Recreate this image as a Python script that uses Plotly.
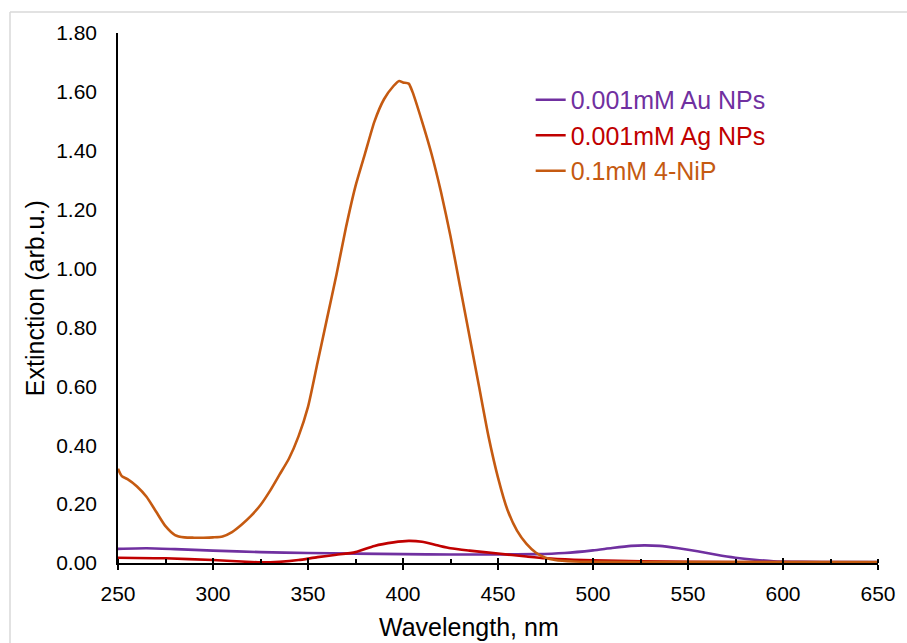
import plotly.graph_objects as go

# ---- data ----
nip_wl = [250, 252, 255, 260, 265, 270, 275, 280, 285, 290, 295, 300, 305, 310, 315, 320, 325,
          330, 335, 340, 345, 350, 355, 360, 365, 370, 375, 380, 385, 390, 395, 398, 400, 403,
          405, 410, 415, 420, 425, 430, 435, 440, 445, 450, 455, 460, 465, 470, 475, 480, 490,
          500, 550, 600, 650]
nip_ext = [0.32, 0.295, 0.285, 0.26, 0.225, 0.175, 0.125, 0.095, 0.087, 0.086, 0.086, 0.087, 0.09,
           0.105, 0.13, 0.16, 0.197, 0.245, 0.30, 0.355, 0.43, 0.53, 0.68, 0.83, 0.98, 1.14, 1.28,
           1.39, 1.50, 1.575, 1.62, 1.637, 1.632, 1.628, 1.60, 1.50, 1.39, 1.26, 1.11, 0.94, 0.77,
           0.60, 0.43, 0.29, 0.18, 0.11, 0.065, 0.035, 0.018, 0.01, 0.005, 0.004, 0.003, 0.003, 0.003]

ag_wl = [250, 275, 300, 315, 325, 335, 345, 355, 365, 375, 385, 395, 403, 410, 418, 425, 435, 450,
         465, 475, 490, 500, 525, 550, 600, 650]
ag_ext = [0.018, 0.016, 0.010, 0.005, 0.002, 0.004, 0.010, 0.020, 0.028, 0.037, 0.058, 0.070, 0.075,
          0.072, 0.060, 0.050, 0.042, 0.032, 0.022, 0.016, 0.011, 0.009, 0.006, 0.004, 0.003, 0.002]

au_wl = [250, 265, 280, 300, 325, 350, 375, 400, 425, 450, 470, 485, 500, 510, 520, 527, 535, 545,
         555, 565, 575, 585, 595, 610, 630, 650]
au_ext = [0.048, 0.050, 0.047, 0.042, 0.037, 0.034, 0.032, 0.030, 0.029, 0.029, 0.030, 0.034, 0.043,
          0.051, 0.058, 0.060, 0.058, 0.050, 0.040, 0.028, 0.018, 0.011, 0.006, 0.004, 0.003, 0.003]

series_names = ["0.001mM Au NPs", "0.001mM Ag NPs", "0.1mM 4-NiP"]
series_colors = ["#7030A0", "#C00000", "#C55A11"]

x_ticks = [250, 300, 350, 400, 450, 500, 550, 600, 650]
y_ticks = [0.0, 0.2, 0.4, 0.6, 0.8, 1.0, 1.2, 1.4, 1.6, 1.8]

FONT = "Arial, Liberation Sans, sans-serif"

fig = go.Figure()
for name, color, xs, ys in [
    (series_names[0], series_colors[0], au_wl, au_ext),
    (series_names[1], series_colors[1], ag_wl, ag_ext),
    (series_names[2], series_colors[2], nip_wl, nip_ext),
]:
    fig.add_trace(go.Scatter(
        x=xs, y=ys, mode="lines", line=dict(color=color, width=2.6, shape="spline", smoothing=0.6),
        name=f"<span style='color:{color}'>{name}</span>",
    ))

# invisible helper trace to carry the overlay axis used for crossing tick marks
fig.add_trace(go.Scatter(x=[nip_wl[0]], y=[nip_ext[0]], xaxis="x2", mode="markers",
                         marker=dict(opacity=0), showlegend=False, hoverinfo="skip"))

fig.update_layout(
    width=907, height=643,
    margin=dict(l=118, r=29, t=33, b=80),
    paper_bgcolor="white", plot_bgcolor="white",
    font=dict(family=FONT, color="#000000"),
    showlegend=True,
    legend=dict(x=0.543, y=0.917, xanchor="left", yanchor="top", bgcolor="rgba(0,0,0,0)",
                font=dict(size=25, family=FONT), tracegroupgap=0),
    xaxis=dict(range=[250, 650], tickvals=x_ticks, ticktext=[str(v) for v in x_ticks],
               showgrid=False, zeroline=False, showline=True, linecolor="black", linewidth=1.5,
               ticks="outside", ticklen=5, tickwidth=1.5, tickcolor="black",
               ticklabelstandoff=6,
               minor=dict(ticks="inside", ticklen=4, dtick=25, tick0=250, tickwidth=1.5,
                          tickcolor="black", showgrid=False),
               tickfont=dict(size=21, family=FONT, color="#000000")),
    xaxis2=dict(overlaying="x", matches="x", anchor="y", range=[250, 650], tickvals=x_ticks,
                showticklabels=False, showgrid=False, zeroline=False, showline=False,
                ticks="inside", ticklen=5, tickwidth=1.5, tickcolor="black"),
    yaxis=dict(range=[0, 1.8], tickvals=y_ticks, tickformat=".2f", showgrid=False, zeroline=False,
               showline=True, linecolor="black", linewidth=1.5, ticks="",
               ticklabelstandoff=15,
               tickfont=dict(size=21, family=FONT, color="#000000")),
    annotations=[
        dict(text="Wavelength, nm", xref="paper", yref="paper", x=0.462, y=-0.1208,
             xanchor="center", yanchor="middle", showarrow=False,
             font=dict(size=25, family=FONT, color="#000000")),
        dict(text="Extinction (arb.u.)", xref="paper", yref="paper", x=-0.109, y=0.5,
             xanchor="center", yanchor="middle", showarrow=False, textangle=-90,
             font=dict(size=25, family=FONT, color="#000000")),
    ],
    shapes=[
        dict(type="line", xref="paper", yref="paper", x0=-0.1421, x1=1.2, y0=1.0396, y1=1.0396,
             line=dict(color="#D9D9D9", width=1.5)),
        dict(type="line", xref="paper", yref="paper", x0=-0.1421, x1=-0.1421, y0=-0.3, y1=1.0396,
             line=dict(color="#D9D9D9", width=1.5)),
    ],
)

fig.write_html("out.html")
